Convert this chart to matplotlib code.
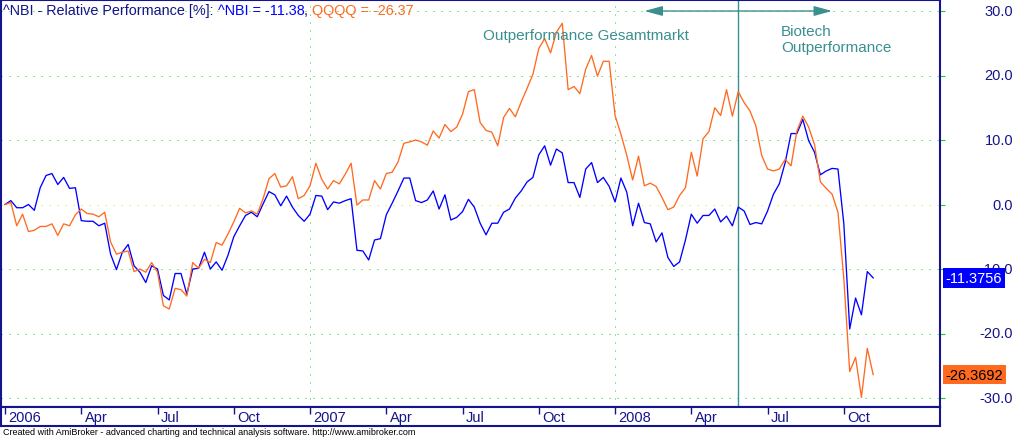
import matplotlib
matplotlib.use('Agg')
import matplotlib.pyplot as plt
import matplotlib.dates as mdates
import pandas as pd

plt.rcParams['font.family'] = ['Liberation Sans', 'DejaVu Sans']

# ---------------- data (weekly relative performance, %) ----------------
start_date = '2006-01-06'
nbi = [0.0, 0.6, -0.5, -0.5, 0.0, -0.9, 2.6, 4.5, 4.8, 3.1,
       4.2, 2.5, 2.6, -2.5, -2.6, -2.6, -3.3, -2.9, -7.7, -10.1,
       -7.4, -6.2, -9.5, -10.5, -12.1, -9.5, -10.0, -14.1, -14.8, -10.7,
       -10.7, -13.9, -10.0, -9.9, -7.4, -10.0, -8.9, -10.2, -7.9, -5.0,
       -3.3, -1.7, -1.2, -1.9, 0.1, 2.0, 1.5, -0.2, 1.3, -0.4,
       -1.7, -2.6, -1.5, 1.4, 1.3, -0.8, 0.4, 0.2, 0.6, 0.9,
       -7.1, -7.2, -8.6, -5.5, -5.3, -1.6, 0.2, 2.1, 4.1, 4.1,
       0.6, 0.3, 0.7, 2.1, -0.7, 1.5, -2.4, -2.0, -1.1, 0.8,
       -0.4, -2.9, -4.7, -2.9, -2.9, -1.2, -0.7, 1.0, 2.1, 3.5,
       4.2, 7.7, 9.1, 6.1, 8.6, 8.0, 3.4, 3.4, 1.1, 5.5,
       6.5, 3.4, 4.2, 2.8, 0.4, 4.1, 1.9, -3.3, 0.2, -2.8,
       -3.0, -5.8, -4.4, -8.2, -9.6, -8.9, -5.5, -1.5, -2.9, -1.7,
       -1.7, -0.7, -2.7, -1.8, -3.3, -0.4, -1.0, -3.1, -2.8, -3.0,
       -1.0, 1.6, 3.2, 6.5, 11.0, 11.0, 13.2, 9.9, 8.1, 4.6,
       5.2, 5.6, 5.5, -3.0, -19.3, -14.5, -17.1, -10.4, -11.3756]
qqqq = [0.0, 0.3, -3.3, -1.5, -4.2, -4.0, -3.4, -3.4, -3.0, -4.8,
        -3.0, -3.3, -1.6, -0.7, -1.4, -1.5, -1.9, -1.2, -5.8, -7.7,
        -7.4, -7.2, -10.4, -10.0, -10.5, -9.0, -10.5, -15.7, -16.2, -13.0,
        -13.2, -14.2, -9.0, -9.9, -8.5, -9.0, -5.9, -6.3, -4.6, -2.7,
        -0.6, -1.3, -1.0, -1.5, 0.9, 4.0, 4.8, 2.7, 2.9, 4.3,
        0.9, 1.4, 2.9, 6.4, 3.9, 2.4, 3.7, 3.2, 4.7, 6.4,
        -0.1, 0.7, 0.7, 3.7, 2.4, 4.8, 5.0, 6.6, 9.5, 9.7,
        10.0, 9.7, 9.2, 11.4, 10.3, 12.4, 11.3, 12.0, 14.0, 17.5,
        17.8, 12.7, 11.5, 11.2, 9.1, 13.5, 14.9, 13.6, 15.9, 18.0,
        20.2, 24.2, 25.7, 23.5, 26.7, 28.1, 17.8, 18.3, 17.2, 21.0,
        23.1, 19.9, 22.2, 22.2, 13.8, 10.9, 7.6, 3.8, 7.5, 2.9,
        3.3, 2.8, 1.1, -0.8, -0.4, 1.4, 2.6, 8.1, 4.4, 10.2,
        11.3, 15.0, 13.8, 17.8, 13.7, 17.5, 15.8, 14.5, 12.2, 7.6,
        5.5, 5.2, 5.5, 7.0, 6.0, 11.4, 13.7, 12.0, 9.3, 3.5,
        2.5, 1.6, -1.2, -11.5, -25.9, -23.7, -29.9, -22.3, -26.3692]
tick_dates = ['2006-01-06', '2006-04-07', '2006-07-07', '2006-10-06',
              '2007-01-05', '2007-04-06', '2007-07-06', '2007-10-05',
              '2008-01-04', '2008-04-04', '2008-07-04', '2008-10-03']
tick_labels = ['2006', 'Apr', 'Jul', 'Oct', '2007', 'Apr', 'Jul', 'Oct',
               '2008', 'Apr', 'Jul', 'Oct']
year_dates = ['2007-01-05', '2008-01-04']
y_ticks = [30, 20, 10, 0, -10, -20, -30]
last_nbi = -11.3756
last_qqqq = -26.3692
title_parts = [('^NBI - Relative Performance [%]: ', 'navy'),
               ('^NBI = -11.38', 'blue'),
               (', ', 'navy'),
               ('QQQQ = -26.37', 'orange')]
marker_date = '2008-05-30'
arrow_left_date = '2008-02-08'
arrow_right_date = '2008-09-19'

# ---------------- styling ----------------
NAVY = '#14148c'
BLUE = '#0000ff'
ORANGE = '#ff6a1f'
GREEN = '#22cc22'
YELLOW = '#e6e600'
TEAL = '#3b8f8f'
colors = {'navy': NAVY, 'blue': BLUE, 'orange': ORANGE}

W, H, DPI = 1017, 439, 100
fig = plt.figure(figsize=(W / DPI, H / DPI), dpi=DPI)


def px_rect(x0, y0, x1, y1):
    return [x0 / W, 1 - y1 / H, (x1 - x0) / W, (y1 - y0) / H]


ax = fig.add_axes(px_rect(1, 0.5, 940, 408))
band = fig.add_axes(px_rect(1, 408, 940, 427))

dates = pd.date_range(start_date, periods=len(nbi), freq='7D')
xd = mdates.date2num(dates)
d0 = xd[0]
px_per_day = 0.838
xlim = (d0 - 4.0 / px_per_day, d0 + 935.0 / px_per_day)
ax.set_xlim(*xlim)
band.set_xlim(*xlim)
ax.set_ylim(-(408 - 205.5) / 6.45, (205.5 - 0.5) / 6.45)
band.set_ylim(0, 1)

dot = (0, (1, 7))
for v in y_ticks:
    ax.axhline(v, color=GREEN if v != 0 else YELLOW, lw=0.72, ls=dot, zorder=1)
for d in year_dates:
    ax.axvline(mdates.date2num(pd.Timestamp(d)), color=GREEN, lw=0.72, ls=dot, zorder=1)

ax.plot(xd, nbi, color=BLUE, lw=0.95, zorder=3)
ax.plot(xd, qqqq, color=ORANGE, lw=0.95, zorder=3)

# annotation: vertical marker + arrows + texts
xm = mdates.date2num(pd.Timestamp(marker_date))
ax.axvline(xm, color=TEAL, lw=1.0, zorder=2)
for dd in (arrow_left_date, arrow_right_date):
    ax.annotate('', xy=(mdates.date2num(pd.Timestamp(dd)), 30), xytext=(xm, 30),
                arrowprops=dict(arrowstyle='-|>,head_length=1.1,head_width=0.3',
                                color=TEAL, lw=1.0, shrinkA=0, shrinkB=0),
                zorder=4)
ax.text(d0 + 693, 26.35, 'Outperformance Gesamtmarkt', ha='center', va='center',
        color=TEAL, fontsize=11, zorder=4)
ax.text(d0 + 926, 28.0, 'Biotech\nOutperformance', ha='left', va='top',
        color=TEAL, fontsize=11, linespacing=1.15, zorder=4)

# axes frame
for a in (ax, band):
    for s in a.spines.values():
        s.set_color(NAVY)
        s.set_linewidth(1.5)
ax.set_xticks([])
ax.tick_params(axis='x', bottom=False, top=False, labelbottom=False)
ax.yaxis.tick_right()
ax.set_yticks(y_ticks)
ax.tick_params(axis='y', direction='out', length=3.5, width=0.8, colors=GREEN,
               labelright=False, labelleft=False, left=False)
for t, v in zip(ax.yaxis.get_major_ticks(), y_ticks):
    if v == 0:
        t.tick2line.set_color(YELLOW)

for v in y_ticks:
    ax.annotate(f'{v:.1f}', xy=(1, v), xycoords=('axes fraction', 'data'),
                xytext=((1013 - 940) * 0.72, 0), textcoords='offset points',
                ha='right', va='center', color=NAVY, fontsize=10.5, zorder=5,
                annotation_clip=False)

for val, fc, tc in ((last_nbi, BLUE, 'white'), (last_qqqq, ORANGE, 'black')):
    ax.annotate(f'{val:.4f}', xy=(1, val), xycoords=('axes fraction', 'data'),
                xytext=(4.0, 0), textcoords='offset points', ha='left', va='center',
                color=tc, fontsize=10.5, zorder=10, annotation_clip=False,
                bbox=dict(boxstyle='square,pad=0.2', fc=fc, ec='none'))

# time band
band.set_yticks([])
tnum = [mdates.date2num(pd.Timestamp(d)) for d in tick_dates]
band.set_xticks(tnum)
band.xaxis.set_ticks_position('top')
band.tick_params(axis='x', direction='in', length=5, width=1.0, color=NAVY,
                 labeltop=False, labelbottom=False)
for x, lab in zip(tnum, tick_labels):
    band.annotate(lab, xy=(x, 0.45), xycoords=('data', 'axes fraction'),
                  xytext=(2.5, 0), textcoords='offset points', ha='left', va='center',
                  color=NAVY, fontsize=10.5)

# title (multi-coloured); measure prefixes with a sentinel so trailing spaces count
renderer = fig.canvas.get_renderer()
TFS = 10.4
probe = fig.text(0, 0, '', fontsize=TFS)


def text_w(s):
    probe.set_text(s + '|')
    w1 = probe.get_window_extent(renderer).width
    probe.set_text('|')
    w2 = probe.get_window_extent(renderer).width
    return w1 - w2


prefix = ''
for s, c in title_parts:
    xpix = 3 + text_w(prefix)
    fig.text(xpix / W, 1 - 15 / H, s, color=colors[c], fontsize=TFS,
             va='baseline', ha='left')
    prefix += s
probe.remove()

fig.text(3 / W, 1 - 433 / H,
         'Created with AmiBroker - advanced charting and technical analysis software. http://www.amibroker.com',
         fontsize=6.5, va='center', ha='left', color='black')

fig.savefig('out.png', dpi=DPI)
